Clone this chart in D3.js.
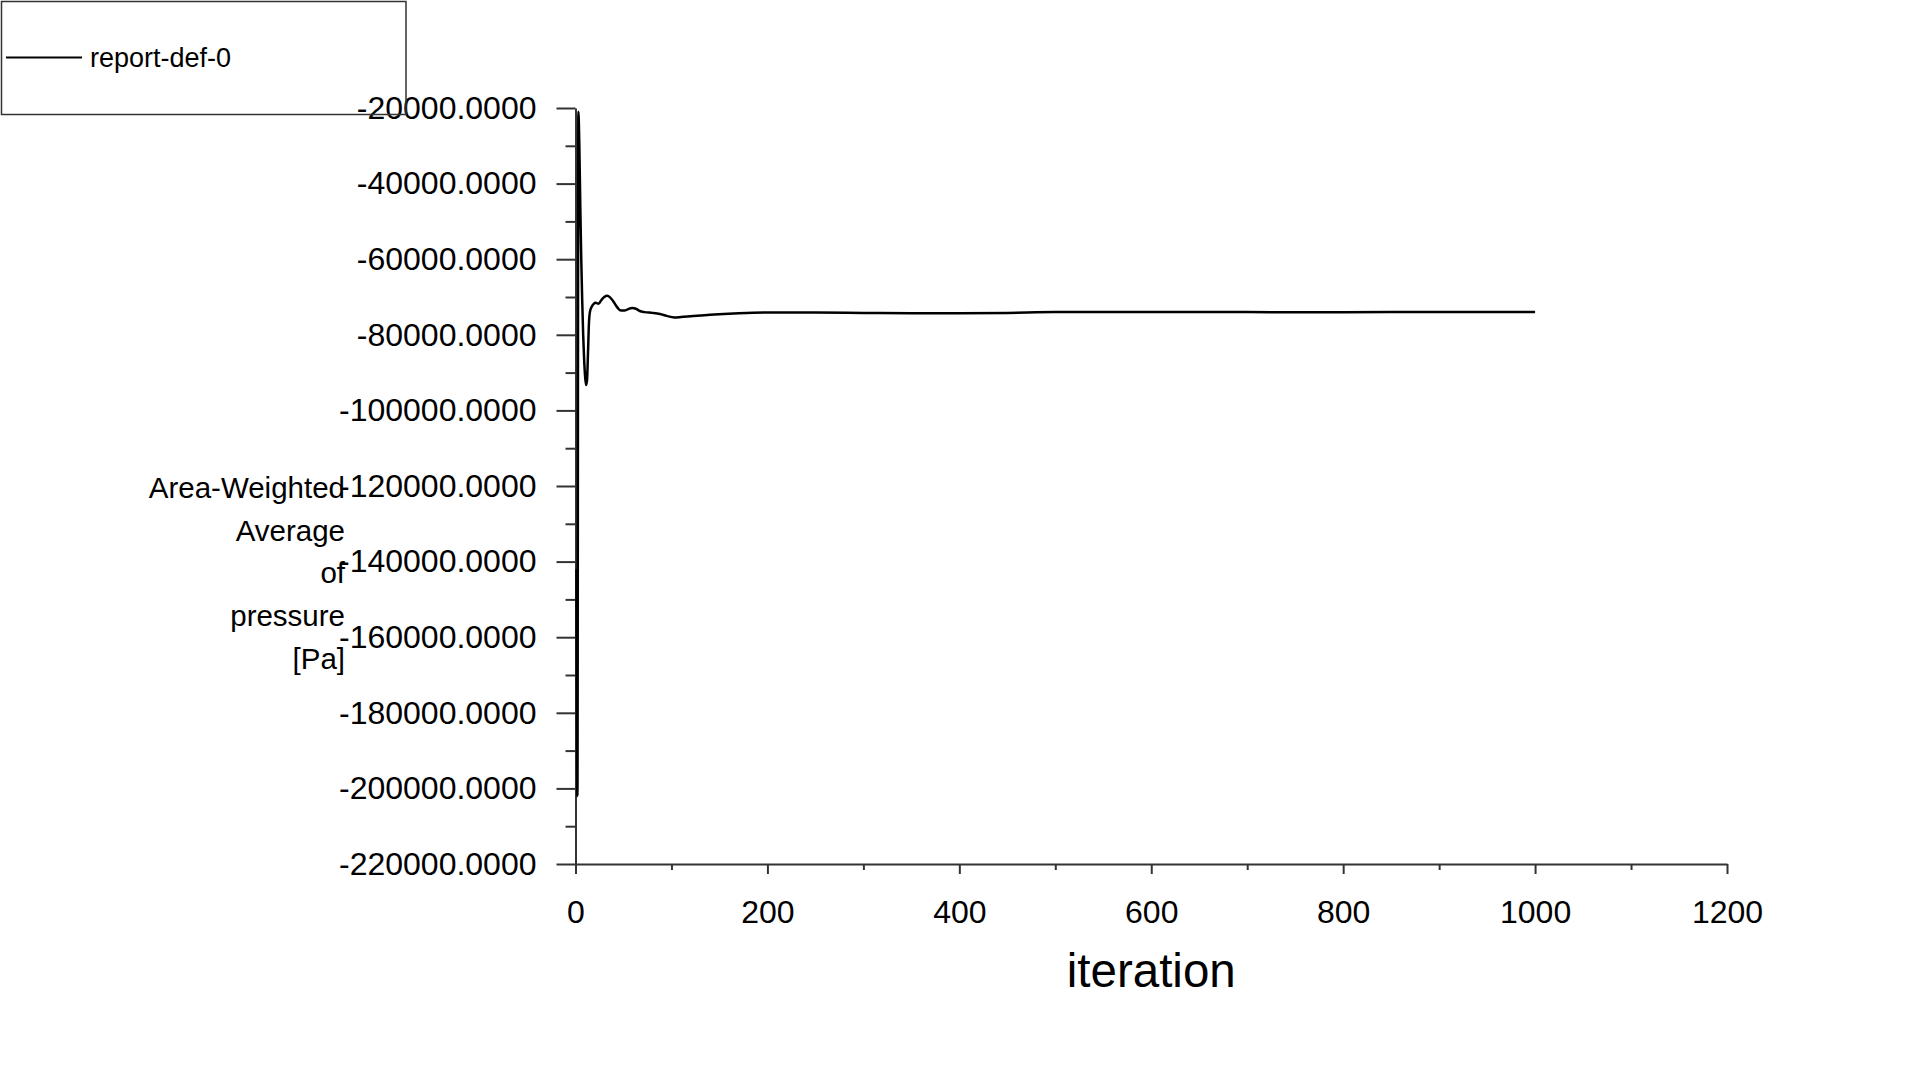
<!DOCTYPE html>
<html>
<head>
<meta charset="utf-8">
<script src="https://cdn.jsdelivr.net/npm/d3@7"></script>
<style>
  html, body { margin: 0; padding: 0; background: #fff; }
  svg { display: block; }
  text { font-family: "Liberation Sans", Arial, sans-serif; fill: #000; }
</style>
</head>
<body>
<svg id="chart" width="1920" height="1080"></svg>
<script>
// ---- data ----
const seriesName = "report-def-0";
const iterations = [1, 2, 3, 4, 5, 6, 7, 8, 9, 10, 11, 12, 13, 14, 15, 17, 19, 21, 24, 27, 30, 33, 36, 39, 42, 45, 48, 51, 55, 59, 63, 67, 72, 80, 88, 95, 103, 110, 120, 140, 170, 200, 250, 300, 350, 400, 450, 500, 600, 700, 800, 900, 1000];
const pressure = [-142000, -202000, -21000, -30000, -46000, -60000, -71000, -80000, -86500, -91000, -93300, -92000, -85000, -77000, -74000, -72500, -71800, -71500, -71800, -70800, -70000, -69700, -70100, -71000, -72200, -73200, -73600, -73600, -73200, -72900, -73100, -73700, -74000, -74200, -74500, -75000, -75400, -75300, -75100, -74700, -74300, -74100, -74100, -74200, -74300, -74300, -74200, -74000, -73950, -74000, -74050, -73950, -74000];
const xMajorTicks = [0, 200, 400, 600, 800, 1000, 1200];
const xMinorTicks = [100, 300, 500, 700, 900, 1100];
const yMajorTicks = [-20000, -40000, -60000, -80000, -100000, -120000, -140000, -160000, -180000, -200000, -220000];
const yMinorTicks = [-30000, -50000, -70000, -90000, -110000, -130000, -150000, -170000, -190000, -210000];
const xTitle = "iteration";
const yTitleLines = ["Area-Weighted", "Average", "of", "pressure", "[Pa]"];

// ---- layout ----
const svg = d3.select("#chart");
const x = d3.scaleLinear().domain([0, 1200]).range([575.5, 1727]);
const y = d3.scaleLinear().domain([-220000, -20000]).range([864, 108]);
const axisColor = "#333";
const fam = "Liberation Sans, Arial, sans-serif";

// minor ticks
svg.append("g")
  .attr("transform", `translate(0,${y(-220000)})`)
  .call(d3.axisBottom(x).tickValues(xMinorTicks).tickSize(6).tickFormat(""))
  .call(g => g.select(".domain").remove())
  .call(g => g.selectAll("line").attr("stroke", axisColor).attr("stroke-width", 2));
svg.append("g")
  .attr("transform", `translate(${x(0)},0)`)
  .call(d3.axisLeft(y).tickValues(yMinorTicks).tickSize(10).tickFormat(""))
  .call(g => g.select(".domain").remove())
  .call(g => g.selectAll("line").attr("stroke", axisColor).attr("stroke-width", 2));

// major x axis
svg.append("g")
  .attr("transform", `translate(0,${y(-220000)})`)
  .call(d3.axisBottom(x).tickValues(xMajorTicks).tickSize(10).tickSizeOuter(0).tickPadding(26).tickFormat(d => String(d)))
  .call(g => g.select(".domain").attr("stroke", axisColor).attr("stroke-width", 2))
  .call(g => g.selectAll("line").attr("stroke", axisColor).attr("stroke-width", 2))
  .call(g => g.selectAll("text").attr("font-size", 32).attr("font-family", fam).attr("fill", "#000"));

// major y axis
svg.append("g")
  .attr("transform", `translate(${x(0)},0)`)
  .call(d3.axisLeft(y).tickValues(yMajorTicks).tickSize(19).tickSizeOuter(0).tickPadding(20).tickFormat(d => d.toFixed(4)))
  .call(g => g.select(".domain").attr("stroke", axisColor).attr("stroke-width", 2))
  .call(g => g.selectAll("line").attr("stroke", axisColor).attr("stroke-width", 2))
  .call(g => g.selectAll("text").attr("font-size", 32).attr("font-family", fam).attr("fill", "#000"));

// titles
svg.append("text")
  .attr("x", (x(0) + x(1200)) / 2)
  .attr("y", 987)
  .attr("text-anchor", "middle")
  .attr("font-size", 47.5)
  .text(xTitle);

const yt = svg.append("text").attr("text-anchor", "end").attr("font-size", 29.5);
yTitleLines.forEach((t, i) => {
  yt.append("tspan").attr("x", 345).attr("y", 498 + i * 42.7).text(t);
});

// line
const data = iterations.map((it, i) => ({ it, v: pressure[i] }));
svg.append("path")
  .datum(data)
  .attr("fill", "none")
  .attr("stroke", "#000")
  .attr("stroke-width", 2.5)
  .attr("stroke-linejoin", "round")
  .attr("d", d3.line().x(d => x(d.it)).y(d => y(d.v)).curve(d3.curveMonotoneX));

// legend
const lg = svg.append("g");
lg.append("rect")
  .attr("x", 1.5).attr("y", 1.5).attr("width", 404.5).attr("height", 113)
  .attr("fill", "none").attr("stroke", axisColor).attr("stroke-width", 1.5);
lg.append("line")
  .attr("x1", 6).attr("x2", 82).attr("y1", 57.5).attr("y2", 57.5)
  .attr("stroke", "#000").attr("stroke-width", 2);
lg.append("text")
  .attr("x", 90).attr("y", 67).attr("font-size", 27)
  .text(seriesName);
</script>
</body>
</html>
